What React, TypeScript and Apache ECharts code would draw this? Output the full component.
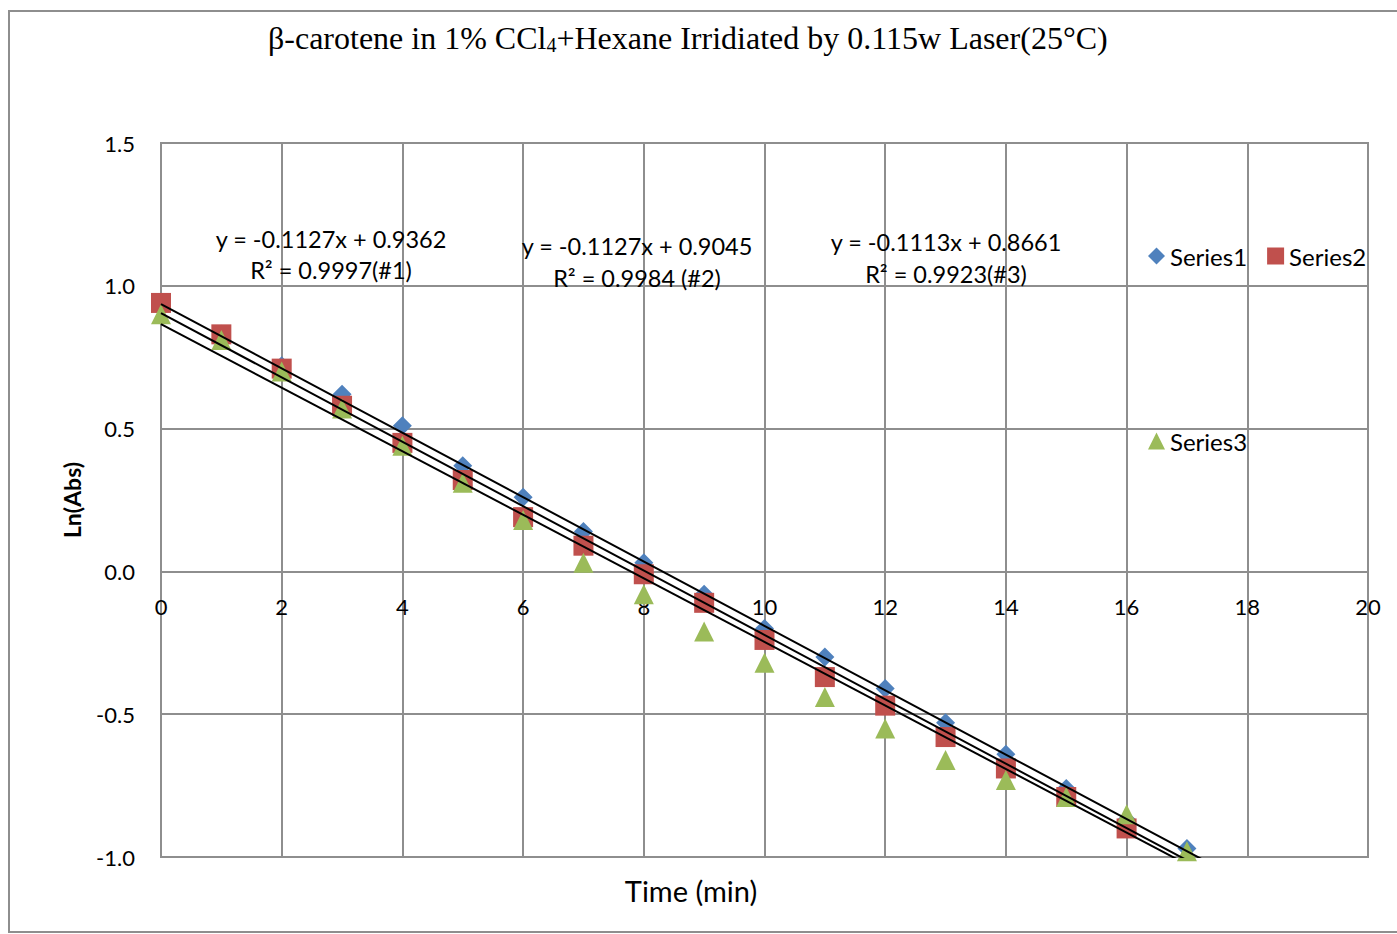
import React, { useEffect, useRef } from "react";
import * as echarts from "echarts";

const times = [0, 1, 2, 3, 4, 5, 6, 7, 8, 9, 10, 11, 12, 13, 14, 15, 16, 17];
const series1 = [0.93, 0.83, 0.72, 0.62, 0.51, 0.37, 0.26, 0.14, 0.03, -0.08, -0.2, -0.3, -0.41, -0.53, -0.64, -0.76, -0.87, -0.97];
const series2 = [0.94, 0.83, 0.71, 0.58, 0.45, 0.32, 0.19, 0.09, -0.01, -0.11, -0.24, -0.37, -0.47, -0.58, -0.69, -0.79, -0.9, -1.01];
const series3 = [0.9, 0.81, 0.7, 0.57, 0.44, 0.31, 0.18, 0.03, -0.08, -0.21, -0.32, -0.44, -0.55, -0.66, -0.73, -0.79, -0.85, -0.98];

const seriesNames = ["Series1", "Series2", "Series3"];
const seriesColors = ["#4F81BD", "#C0504D", "#9BBB59"];
const seriesSymbols = ["diamond", "rect", "triangle"];
const seriesSizes = [19, 20, 20];
const seriesClip = [false, true, false];

// trend lines (slope, intercept) as labelled on the chart
const trendSlopes = [-0.1127, -0.1127, -0.1113];
const trendIntercepts = [0.9362, 0.9045, 0.8661];
const trendRange = [0, 18];
const trendEquations = ["y = -0.1127x + 0.9362", "y = -0.1127x + 0.9045", "y = -0.1113x + 0.8661"];
const trendR2 = ["R² = 0.9997(#1)", "R² = 0.9984 (#2)", "R² = 0.9923(#3)"];

const titleMain1 = "β-carotene in 1% CCl";
const titleSub = "4";
const titleMain2 = "+Hexane Irridiated by 0.115w Laser(25°C)";
const xAxisTitle = "Time (min)";
const yAxisTitle = "Ln(Abs)";

const FONT = "Lato";
const GRID_COLOR = "#8e8e8e";

const Y_MIN = -1;
const Y_MAX = 1.5;
const GRID_TOP = 143;
const GRID_BOTTOM = 77;
const CHART_H = 934;

export default function App() {
  const ref = useRef<HTMLDivElement>(null);
  useEffect(() => {
    if (!ref.current) return;
    const chart = echarts.init(ref.current, null, { renderer: "svg" });
    const dataSets = [series1, series2, series3];
    const scatterSeries = dataSets.map((vals, i) => ({
      name: seriesNames[i],
      type: "scatter",
      data: times.map((t, j) => [t, vals[j]]),
      symbol: seriesSymbols[i],
      symbolSize: seriesSizes[i],
      itemStyle: { color: seriesColors[i], opacity: 1 },
      clip: seriesClip[i],
      z: 2 + i,
    }));
    const trendSeries = trendSlopes.map((m, i) => ({
      name: "trend" + (i + 1),
      type: "line",
      data: trendRange.map((x) => [x, m * x + trendIntercepts[i]]),
      symbol: "none",
      lineStyle: { color: "#000", width: 2 },
      silent: true,
      clip: true,
      z: 10,
    }));
    const annCenters = [
      [331, 239, 270],
      [637, 246, 278],
      [946, 242, 274],
    ];
    const annTexts: any[] = [];
    annCenters.forEach((c, i) => {
      annTexts.push({
        type: "text",
        x: c[0],
        y: c[1],
        style: { text: trendEquations[i], fill: "#000", font: `23.5px ${FONT}`, textAlign: "center", textVerticalAlign: "middle" },
        z: 20,
      });
      annTexts.push({
        type: "text",
        x: c[0],
        y: c[2],
        style: { text: trendR2[i], fill: "#000", font: `23.5px ${FONT}`, textAlign: "center", textVerticalAlign: "middle" },
        z: 20,
      });
    });
    // x axis crosses at y = 0: shift it up from the bottom by the zero's distance
    const plotH = CHART_H - GRID_TOP - GRID_BOTTOM;
    const zeroOffset = -(plotH * (0 - Y_MIN)) / (Y_MAX - Y_MIN);
    chart.setOption({
      animation: false,
      backgroundColor: "#fff",
      title: {
        text: `{a|${titleMain1}}{s|${titleSub}}{a|${titleMain2}}`,
        left: 268,
        top: 21,
        padding: 0,
        textStyle: {
          fontWeight: "normal",
          rich: {
            a: { fontFamily: "Liberation Serif", fontWeight: "normal", fontSize: 32, lineHeight: 34, color: "#000" },
            s: { fontFamily: "Liberation Serif", fontWeight: "normal", fontSize: 20, lineHeight: 12, verticalAlign: "bottom", color: "#000" },
          },
        },
      },
      legend: [
        {
          data: ["Series1", "Series2"],
          left: 1148,
          top: 244,
          itemWidth: 17,
          itemHeight: 17,
          itemGap: 20,
          padding: 0,
          textStyle: { fontFamily: FONT, fontSize: 24, color: "#000" },
          selectedMode: false,
        },
        {
          data: ["Series3"],
          left: 1148,
          top: 429,
          itemWidth: 17,
          itemHeight: 17,
          padding: 0,
          textStyle: { fontFamily: FONT, fontSize: 24, color: "#000" },
          selectedMode: false,
        },
      ],
      grid: {
        left: 161,
        top: GRID_TOP,
        right: 29,
        bottom: GRID_BOTTOM,
        show: true,
        borderColor: GRID_COLOR,
        borderWidth: 2,
        containLabel: false,
      },
      xAxis: {
        type: "value",
        min: 0,
        max: 20,
        interval: 2,
        position: "bottom",
        offset: zeroOffset,
        axisLine: { onZero: false, lineStyle: { color: GRID_COLOR, width: 2 } },
        axisTick: { show: false },
        axisLabel: { margin: 24, fontFamily: FONT, fontSize: 22, color: "#000" },
        splitLine: { show: true, lineStyle: { color: GRID_COLOR, width: 2 } },
      },
      yAxis: {
        type: "value",
        min: Y_MIN,
        max: Y_MAX,
        interval: 0.5,
        name: yAxisTitle,
        nameLocation: "middle",
        nameRotate: 90,
        nameGap: 78,
        nameTextStyle: { fontFamily: FONT, fontSize: 23, fontWeight: "bold", color: "#000" },
        axisLine: { show: true, onZero: false, lineStyle: { color: GRID_COLOR, width: 2 } },
        axisTick: { show: false },
        axisLabel: {
          margin: 26,
          fontFamily: FONT,
          fontSize: 22,
          color: "#000",
          formatter: (v: number) => v.toFixed(1),
        },
        splitLine: { show: true, lineStyle: { color: GRID_COLOR, width: 2 } },
      },
      graphic: [
        {
          type: "rect",
          shape: { x: 9, y: 11, width: 1400, height: 921 },
          style: { fill: "none", stroke: GRID_COLOR, lineWidth: 2 },
          silent: true,
          z: -1,
        },
        {
          type: "text",
          x: 691,
          y: 890,
          style: { text: xAxisTitle, fill: "#000", font: `29px ${FONT}`, textAlign: "center", textVerticalAlign: "middle" },
        },
        ...annTexts,
      ],
      series: [...scatterSeries, ...trendSeries],
    });
    return () => chart.dispose();
  }, []);
  return <div ref={ref} style={{ position: "fixed", left: 0, top: 0, width: 1397, height: 934 }} />;
}
